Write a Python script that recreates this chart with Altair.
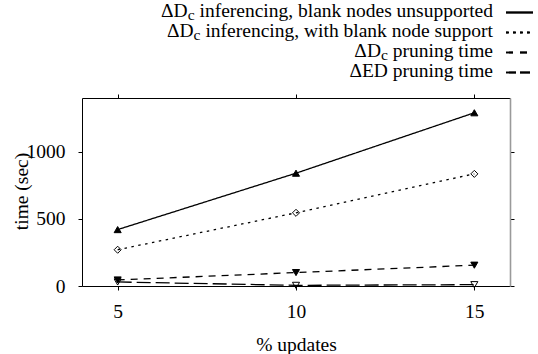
import altair as alt
import pandas as pd

# ---- data ----
x_updates = [5, 10, 15]
s_inf_unsupported = [420, 840, 1290]
s_inf_blank = [270, 545, 835]
s_dc_pruning = [45, 100, 155]
s_ed_pruning = [30, 5, 10]
series_keys = ["inf_unsup", "inf_blank", "dc_prune", "ed_prune"]
series_values = [s_inf_unsupported, s_inf_blank, s_dc_pruning, s_ed_pruning]
x_ticks = [5, 10, 15]
y_ticks = [0, 500, 1000]

legend_prefix = ["ΔD", "ΔD", "ΔD", None]
legend_sub = ["c", "c", "c", None]
legend_rest = ["inferencing, blank nodes unsupported",
               "inferencing, with blank node support",
               "pruning time",
               "ΔED pruning time"]

rows = []
for key, vals in zip(series_keys, series_values):
    for xv, yv in zip(x_updates, vals):
        rows.append({"series": key, "x": xv, "y": yv})
df = pd.DataFrame(rows)

# ---- layout ----
FONT = "Liberation Serif"
FS = 19.5
SUB_FS = 15.6
W, H = 428, 188
PL, PT, PR, PB = 82, 98, 28, 68

TIMES = {"a": 444, "b": 500, "c": 444, "d": 500, "e": 444, "f": 333, "g": 500,
         "h": 500, "i": 278, "j": 278, "k": 500, "l": 278, "m": 778, "n": 500,
         "o": 500, "p": 500, "q": 500, "r": 333, "s": 389, "t": 278, "u": 500,
         "v": 500, "w": 722, "x": 500, "y": 500, "z": 444, " ": 250, ",": 250}


def tw(s, size):
    return sum(TIMES.get(ch, 500) for ch in s) * size / 1000.0


RIGHT_END = 493
baselines = [16.5, 36.5, 56.5, 76.5]
rest_rows, sub_rows, pre_rows = [], [], []
for i in range(4):
    yb = baselines[i] - PT
    rest_rows.append({"t": legend_rest[i], "px": RIGHT_END - PL, "py": yb})
    if legend_prefix[i] is None:
        continue
    c_end = RIGHT_END - tw(legend_rest[i], FS) - tw(" ", FS)
    sub_rows.append({"t": legend_sub[i], "px": c_end - PL, "py": yb + 3.5})
    d_end = c_end - tw(legend_sub[i], SUB_FS)
    pre_rows.append({"t": legend_prefix[i], "px": d_end - PL, "py": yb})

xscale = alt.Scale(domain=[4, 16], nice=False, zero=False)
yscale = alt.Scale(domain=[0, 1400], nice=False, zero=False)

common_axis = dict(tickSize=4, tickColor="black", tickWidth=1, domainColor="black",
                   domainWidth=1, labelFont=FONT, labelFontSize=FS, labelColor="black",
                   titleFont=FONT, titleFontSize=FS, titleFontWeight="normal",
                   titleColor="black", grid=False, labelOverlap=False, labelFlush=False,
                   format="d")

x_axis = alt.Axis(values=x_ticks, labelPadding=12, title="% updates", titleX=W / 2,
                  titleY=350 - (PT + H), titleAlign="center", titleBaseline="alphabetic",
                  **common_axis)
y_axis = alt.Axis(values=y_ticks, labelPadding=13, title="time (sec)", titleAngle=270,
                  titleX=21 - PL, titleY=191 - PT, titleAlign="center",
                  titleBaseline="middle", **common_axis)

dash_scale = alt.Scale(domain=series_keys, range=[[1, 0], [2.5, 4.5], [7, 6], [14, 5]])
shape_scale = alt.Scale(domain=series_keys,
                        range=["triangle-up", "diamond", "triangle-down", "triangle-down"])
fill_scale = alt.Scale(domain=series_keys,
                       range=["black", "transparent", "black", "transparent"])

base = alt.Chart(df)
lines = base.mark_line(color="black", strokeWidth=1.3).encode(
    x=alt.X("x:Q", scale=xscale, axis=x_axis),
    y=alt.Y("y:Q", scale=yscale, axis=y_axis),
    strokeDash=alt.StrokeDash("series:N", scale=dash_scale, legend=None),
    detail="series:N",
)
points = base.mark_point(stroke="black", strokeWidth=1, opacity=1).encode(
    x=alt.X("x:Q", scale=xscale, axis=x_axis),
    y=alt.Y("y:Q", scale=yscale, axis=y_axis),
    shape=alt.Shape("series:N", scale=shape_scale, legend=None),
    fill=alt.Fill("series:N", scale=fill_scale, legend=None),
    size=alt.value(50),
)
inner = alt.layer(lines, points)

frame_x = alt.Axis(values=x_ticks, orient="top", labels=False, title=None, **common_axis)
frame_common_r = dict(common_axis)
frame_common_r["domainColor"] = "#9a9a9a"
frame_common_r["domainWidth"] = 1.6
frame_y = alt.Axis(values=y_ticks, orient="right", labels=False, title=None, **frame_common_r)
frame = base.mark_point(opacity=0).encode(
    x=alt.X("x:Q", scale=xscale, axis=frame_x),
    y=alt.Y("y:Q", scale=yscale, axis=frame_y),
)


def text_layer(rows_, size):
    return alt.Chart(pd.DataFrame(rows_)).mark_text(
        font=FONT, fontSize=size, color="black", align="right", baseline="alphabetic"
    ).encode(
        x=alt.X("px:Q", scale=None),
        y=alt.Y("py:Q", scale=None),
        text="t:N",
    )


legend_text = [text_layer(rest_rows, FS), text_layer(sub_rows, SUB_FS), text_layer(pre_rows, FS)]

LX1, LX2 = 506 - PL, 533 - PL
dashes = [[1, 0], [2.7, 4.3], [7, 7], [10, 4]]
legend_lines = []
for i in range(4):
    legend_lines.append(
        alt.Chart(pd.DataFrame(rest_rows)).mark_rule(color="black", strokeWidth=1.3, strokeDash=dashes[i]).encode(
            x=alt.value(LX1), x2=alt.value(LX2), y=alt.value(baselines[i] - 4 - PT)
        )
    )

chart = alt.layer(inner, frame, *legend_text, *legend_lines).resolve_scale(
    x="independent", y="independent"
).properties(
    width=W, height=H,
    autosize=alt.AutoSizeParams(type="none"),
    padding={"left": PL, "top": PT, "right": PR, "bottom": PB},
).configure(font=FONT, background="white").configure_view(stroke=None)

chart.save("out.html", embed_options={"renderer": "svg", "actions": False})
